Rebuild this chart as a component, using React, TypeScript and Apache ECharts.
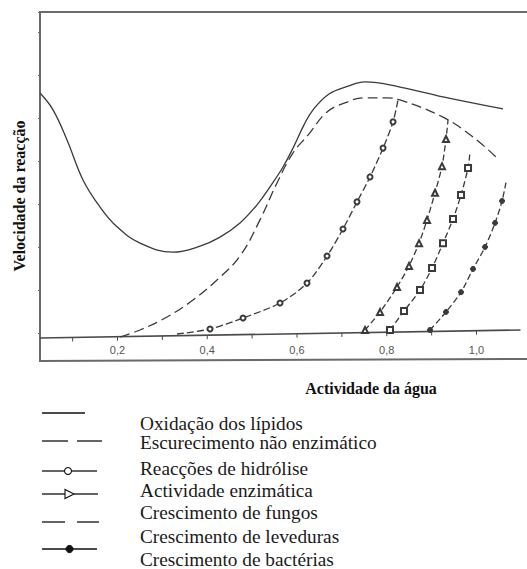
import React, { useEffect, useRef } from "react";
import * as echarts from "echarts";

// Water activity ticks along the x axis
const xTickValues = [0.2, 0.4, 0.6, 0.8, 1.0];
const xTickLabels = ["0,2", "0,4", "0,6", "0,8", "1,0"];
const xMinorTicks = [0.1, 0.2, 0.3, 0.4, 0.5, 0.6, 0.7, 0.8, 0.9, 1.0];

// Each point: [water activity, relative rate, marker flag]
const lipidOxidation = [
  [0.0273, 55.8], [0.0563, 51.9], [0.0875, 44.9], [0.1231, 35.6], [0.161, 29.3],
  [0.1989, 24.7], [0.2502, 20.9], [0.3237, 18.8], [0.3839, 20.2], [0.4284, 22.3],
  [0.473, 25.6], [0.5109, 29.8], [0.5398, 34.0], [0.5688, 38.6], [0.5911, 43.0],
  [0.6156, 48.4], [0.6357, 51.9], [0.6713, 55.6], [0.7137, 57.4], [0.7515, 58.4],
  [0.8295, 57.2], [0.9253, 54.9], [1.059, 52.1],
];

const browning = [
  [0.2056, -0.93], [0.2502, 0.7], [0.3103, 3.72], [0.3683, 7.67], [0.4217, 12.33],
  [0.473, 17.9], [0.5175, 26.3], [0.5554, 34.9], [0.5911, 41.9], [0.6245, 46.0],
  [0.6669, 51.4], [0.7114, 53.7], [0.7471, 54.7], [0.8006, 54.7], [0.8295, 54.2],
  [0.9253, 50.2], [0.9922, 45.6], [1.0456, 40.7],
];

const hydrolysis = [
  [0.3326, -0.23, 0], [0.4061, 0.93, 1], [0.4797, 3.49, 1], [0.5621, 6.98, 1],
  [0.6223, 11.6, 1], [0.6669, 17.9, 1], [0.7025, 24.2, 1], [0.7337, 30.5, 1],
  [0.7627, 36.3, 1], [0.7917, 43.0, 1], [0.814, 49.1, 1], [0.8251, 54.2, 0],
];

const enzymeActivity = [
  [0.7516, 0.7, 1], [0.785, 4.88, 1], [0.8229, 10.7, 1], [0.8496, 15.6, 1],
  [0.8719, 20.9, 1], [0.8897, 26.3, 1], [0.9075, 32.6, 1], [0.9231, 38.8, 1],
  [0.932, 45.1, 1], [0.9365, 49.5, 0],
];

const yeastGrowth = [
  [0.8072, 0.7, 1], [0.8385, 5.1, 1], [0.8741, 10.0, 1], [0.9009, 15.1, 1],
  [0.9253, 20.9, 1], [0.9476, 26.5, 1], [0.9655, 32.1, 1], [0.9811, 38.4, 1],
  [0.9855, 42.1, 0],
];

const bacteriaGrowth = [
  [0.8964, 0.7, 1], [0.932, 4.9, 1], [0.9655, 9.5, 1], [0.9922, 14.9, 1],
  [1.019, 20.0, 1], [1.0413, 25.6, 1], [1.0569, 30.7, 1], [1.0658, 35.1, 0],
];

// Slightly sloping zero line of the plot
const baseline = [
  [0.0273, -1.16],
  [1.098, 0.7],
];

const legendLabels = [
  "Oxidação dos lípidos",
  "Escurecimento não enzimático",
  "Reacções de hidrólise",
  "Actividade enzimática",
  "Crescimento de fungos",
  "Crescimento de leveduras",
  "Crescimento de bactérias",
];

const xTitle = "Actividade da água";
const yTitle = "Velocidade da reacção";

const INK = "#3a3a3a";
const FRAME = "#6a6a6a";
const SERIF = '"Liberation Serif", "Times New Roman", serif';

function baseAt(x: number): number {
  const [a, b] = baseline;
  return a[1] + ((x - a[0]) * (b[1] - a[1])) / (b[0] - a[0]);
}

function curve(
  name: string,
  pts: number[][],
  dash: any,
  symbol: string,
  size: number,
  fill: string,
  smooth: number
) {
  return {
    type: "line",
    name,
    silent: true,
    clip: false,
    smooth,
    showSymbol: true,
    symbol,
    symbolSize: size,
    data: pts.map((p) => ({
      value: [p[0], p[1]],
      symbol: p[2] ? symbol : "none",
    })),
    lineStyle: { color: INK, width: 1.3, type: dash },
    itemStyle: { color: fill, borderColor: INK, borderWidth: 1 },
    z: 3,
  };
}

function frameGraphics() {
  const s = { stroke: FRAME, lineWidth: 2, fill: "none" };
  return [
    { type: "polyline", silent: true, shape: { points: [[527, 12], [40, 12], [40, 361], [527, 359]] }, style: s },
  ];
}

function legendGraphics() {
  const stroke = { stroke: "#111", lineWidth: 1.3 };
  const seg = (x1: number, x2: number, y: number) => ({
    type: "line",
    shape: { x1, y1: y, x2, y2: y },
    style: stroke,
    silent: true,
  });
  const items: any[] = [];
  items.push(seg(42, 85, 413));
  items.push(seg(42, 68, 441), seg(77, 102, 441));
  items.push(seg(42, 64.5, 471), seg(71.5, 97, 471), {
    type: "circle",
    shape: { cx: 68, cy: 471, r: 3.5 },
    style: { fill: "#fff", stroke: "#111", lineWidth: 1.1 },
    silent: true,
  });
  items.push(seg(42, 65, 494), seg(74, 98, 494), {
    type: "polygon",
    shape: { points: [[65, 489.5], [65, 498.5], [74, 494]] },
    style: { fill: "#fff", stroke: "#111", lineWidth: 1.1 },
    silent: true,
  });
  items.push(seg(42, 65, 522), seg(77, 99, 522));
  items.push(seg(42, 97, 549), {
    type: "circle",
    shape: { cx: 69.5, cy: 549, r: 3.6 },
    style: { fill: "#111", stroke: "#111", lineWidth: 1 },
    silent: true,
  });
  const rows = [423, 442, 468, 490, 512, 536, 559];
  legendLabels.forEach((t, i) => {
    items.push({
      type: "text",
      x: 140,
      y: rows[i],
      silent: true,
      style: {
        text: t,
        font: `19.3px ${SERIF}`,
        fill: "#1a1a1a",
        textAlign: "left",
        textVerticalAlign: "middle",
      },
    });
  });
  return items;
}

export default function App() {
  const ref = useRef<HTMLDivElement>(null);

  useEffect(() => {
    if (!ref.current) return;
    const chart = echarts.init(ref.current, undefined, { renderer: "svg" });
    chart.setOption({
      animation: false,
      backgroundColor: "#fff",
      grid: {
        left: 40,
        top: 12,
        right: 0,
        bottom: 236,
      },
      xAxis: {
        type: "value",
        min: 0.0273,
        max: 1.1125,
        axisLine: { show: false },
        axisTick: { show: false },
        splitLine: { show: false },
        axisLabel: {
          customValues: xTickValues,
          margin: 11,
          fontSize: 11,
          fontFamily: '"Liberation Sans", sans-serif',
          color: "#555",
          formatter: (v: number) => {
            const i = xTickValues.findIndex((t) => Math.abs(t - v) < 1e-6);
            return i >= 0 ? xTickLabels[i] : "";
          },
        },
      },
      yAxis: {
        type: "value",
        min: 0,
        max: 74.65,
        interval: 10,
        axisLine: { show: false },
        axisTick: {
          show: true,
          inside: false,
          length: 2,
          lineStyle: { color: FRAME, width: 1 },
        },
        axisLabel: { show: false },
        splitLine: { show: false },
      },
      series: [
        {
          type: "line",
          name: "base",
          silent: true,
          clip: false,
          showSymbol: false,
          data: baseline,
          lineStyle: { color: "#4a4a4a", width: 1.6 },
          z: 2,
        },
        {
          type: "custom",
          name: "ticks",
          silent: true,
          clip: false,
          data: xMinorTicks.map((v) => [v, 0]),
          renderItem: (params: any, api: any) => {
            const x = api.value(0);
            const p = api.coord([x, baseAt(x)]);
            return {
              type: "line",
              shape: { x1: p[0], y1: p[1], x2: p[0], y2: p[1] + 4 },
              style: { stroke: "#4a4a4a", lineWidth: 1 },
            };
          },
          z: 2,
        },
        curve(legendLabels[0], lipidOxidation, "solid", "none", 0, INK, 0.4),
        curve(legendLabels[1], browning, [10, 5], "none", 0, INK, 0.4),
        curve(legendLabels[2], hydrolysis, [7, 3], "emptyCircle", 5, INK, 0.3),
        curve(legendLabels[3], enzymeActivity, [6, 3], "emptyTriangle", 6, INK, 0.3),
        curve(legendLabels[5], yeastGrowth, [6, 3], "emptyRect", 6, INK, 0.3),
        curve(legendLabels[6], bacteriaGrowth, [6, 3], "circle", 5, INK, 0.3),
      ],
      graphic: [
        ...frameGraphics(),
        {
          type: "text",
          x: 19,
          y: 196,
          rotation: Math.PI / 2,
          silent: true,
          style: {
            text: yTitle,
            font: `bold 16px ${SERIF}`,
            fill: "#111",
            textAlign: "center",
            textVerticalAlign: "middle",
          },
        },
        {
          type: "text",
          x: 371,
          y: 388,
          silent: true,
          style: {
            text: xTitle,
            font: `bold 16px ${SERIF}`,
            fill: "#111",
            textAlign: "center",
            textVerticalAlign: "middle",
          },
        },
        ...legendGraphics(),
      ],
    });
    return () => chart.dispose();
  }, []);

  return (
    <div
      style={{
        position: "absolute",
        left: 0,
        top: 0,
        width: 527,
        height: 569,
        background: "#fff",
      }}
    >
      <div ref={ref} style={{ width: 527, height: 569 }} />
    </div>
  );
}
